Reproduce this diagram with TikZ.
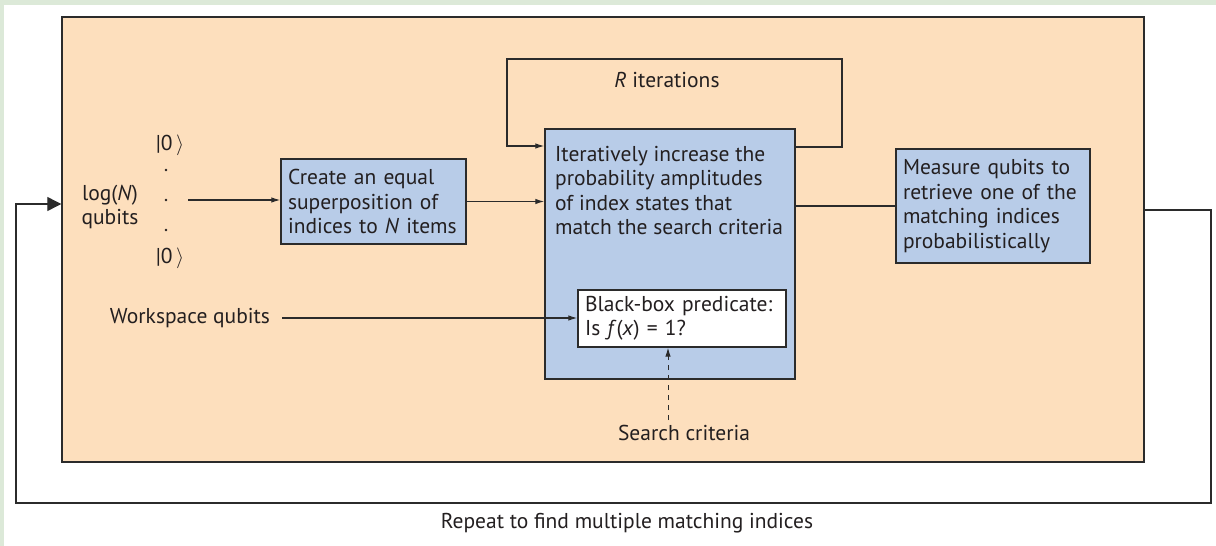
\documentclass[tikz,border=0pt]{standalone}
\usepackage{fontspec}
\setmainfont{PT Sans}
\usetikzlibrary{arrows.meta,shadows}
\definecolor{peach}{HTML}{FDDFBD}
\definecolor{bluebox}{HTML}{B8CCE8}
\definecolor{greenband}{HTML}{DCE9D8}
\definecolor{ink}{HTML}{231F20}
\definecolor{linec}{HTML}{2B2B2B}
\begin{document}
\begin{tikzpicture}[x=1pt,y=-1pt,
  font=\fontsize{21.5}{24.5}\selectfont, text=ink,
  conn/.style={draw=linec, line width=1.2pt},
  arr/.style={conn, -{Latex[length=9pt,width=5.5pt]}},
  bigarr/.style={conn, -{Triangle[length=14pt,width=14pt]}},
  bshadow/.style={drop shadow={shadow xshift=1.4pt,shadow yshift=-1.4pt,opacity=0.45,fill=black}},
  bluebx/.style={draw=linec, line width=1.3pt, fill=bluebox, inner sep=0pt, align=left, bshadow},
  whitebx/.style={draw=linec, line width=1.3pt, fill=white, inner sep=0pt, align=left, bshadow},
  lbl/.style={inner sep=0pt, align=center}
]
\useasboundingbox (0,0) rectangle (1216,546);
\fill[white] (0,0) rectangle (1216,546);
\fill[greenband] (0,0) rectangle (1216,5);
\fill[greenband] (0,0) rectangle (4,546);

% main peach box
\node[draw=linec, line width=1.4pt, fill=peach, inner sep=0pt, minimum width=1082pt, minimum height=445pt, bshadow] (main) at (603,239.5) {};

% left qubit labels
\node[lbl] (logn) at (110,207) {log(\textit{N})\\qubits};
\node[lbl] (ket1) at (170,145) {|0\,$\rangle$};
\node[lbl] (ket2) at (170,258) {|0\,$\rangle$};
\fill[ink] (166,170) circle (1.4);
\fill[ink] (166,200) circle (1.4);
\fill[ink] (166,230) circle (1.4);
\coordinate (qin) at (188,200);

% boxes
\node[bluebx, minimum width=185pt, minimum height=85pt, text width=171pt] (create) at (373.5,201.5)
  {Create an equal\\superposition of\\indices to \textit{N} items};
\node[bluebx, minimum width=250pt, minimum height=250pt] (iter) at (670,254) {};
\node[anchor=north west, inner sep=0pt, align=left] (itertext) at (555,146)
  {Iteratively increase the\\probability amplitudes\\of index states that\\match the search criteria};
\node[whitebx, minimum width=208pt, minimum height=57pt, text width=194pt] (bb) at (682,318.5)
  {Black-box predicate:\\Is \textit{f}(\textit{x}) = 1?};
\node[bluebx, minimum width=194pt, minimum height=114pt, text width=180pt] (meas) at (993,206)
  {Measure qubits to\\retrieve one of the\\matching indices\\probabilistically};

% labels
\node[lbl] (riter) at (667,80) {\textit{R} iterations};
\node[lbl] (work) at (190,318) {Workspace qubits};
\node[lbl] (sc) at (684,433) {Search criteria};
\node[lbl] (rep) at (627,523) {Repeat to find multiple matching indices};

% connectors
\draw[arr] (qin) -- (create.west |- qin);
\draw[arr] (create.east) -- (iter.west |- create.east);
\coordinate (rA) at (842,147);
\coordinate (rB) at (842,59);
\coordinate (rC) at (507,59);
\coordinate (rD) at (507,146);
\draw[arr] (iter.east |- rA) -- (rA) -- (rB) -- (rC) -- (rD) -- (iter.west |- rD);
\draw[conn] (iter.east |- meas.west) -- (meas.west);
\draw[arr, shorten <=12pt] (work.east) -- (bb.west |- work.east);
\coordinate (dS) at (668,420);
\draw[arr, line width=1pt, dash pattern=on 5pt off 5pt] (dS) -- (dS |- bb.south);
\coordinate (oA) at (1211,210);
\coordinate (oB) at (1211,503);
\coordinate (oC) at (16,503);
\coordinate (oD) at (16,204);
\draw[bigarr] (main.east |- oA) -- (oA) -- (oB) -- (oC) -- (oD) -- (main.west |- oD);
\end{tikzpicture}
\end{document}
